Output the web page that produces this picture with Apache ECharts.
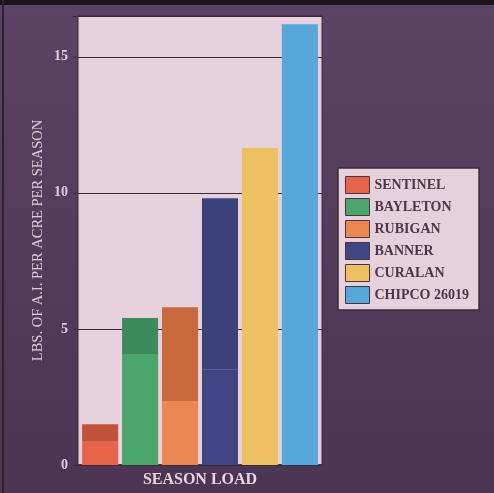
<!DOCTYPE html>
<html>
<head>
<meta charset="utf-8">
<script src="https://cdn.jsdelivr.net/npm/echarts@6/dist/echarts.min.js"></script>
<style>
  html, body { margin: 0; padding: 0; }
  #chart { width: 494px; height: 493px; }
</style>
</head>
<body>
<div id="chart"></div>
<script>
// products and their season-load range (low / high)
const products = ['SENTINEL', 'BAYLETON', 'RUBIGAN', 'BANNER', 'CURALAN', 'CHIPCO 26019'];
const lowValues = [0.85, 4.05, 2.35, 3.5, 11.65, 16.2];
const highValues = [1.5, 5.4, 5.8, 9.8, 11.65, 16.2];
const baseColors = ['#e8634a', '#4ba66c', '#ec8752', '#3f4682', '#edc062', '#54a9da'];
const topColors = ['#c2533a', '#3b8a5a', '#c86a3c', '#3b417a', '#edc062', '#54a9da'];
const categories = ['SEASON LOAD'];
const yTicks = [0, 5, 10, 15];

const serif = '"Liberation Serif", "DejaVu Serif", serif';

const series = [];
products.forEach((name, i) => {
  series.push({
    name: name,
    type: 'bar',
    stack: name,
    barWidth: 36,
    barGap: '11%',
    itemStyle: { color: baseColors[i] },
    data: [lowValues[i]],
  });
  series.push({
    name: name + ' high',
    type: 'bar',
    stack: name,
    barWidth: 36,
    barGap: '11%',
    itemStyle: { color: topColors[i] },
    data: [+(highValues[i] - lowValues[i]).toFixed(2)],
  });
});

const chart = echarts.init(document.getElementById('chart'), undefined, { renderer: 'canvas' });

chart.setOption({
  animation: false,
  backgroundColor: {
    type: 'linear', x: 0, y: 0, x2: 0, y2: 1,
    colorStops: [
      { offset: 0, color: '#5c4264' },
      { offset: 1, color: '#4b3552' },
    ],
  },
  graphic: [
    { type: 'rect', left: 0, top: 0, shape: { width: 494, height: 5 }, style: { fill: '#1e141e' } },
    { type: 'rect', left: 2, top: 0, shape: { width: 2, height: 493 }, style: { fill: '#2e2030' } },
  ],
  grid: {
    left: 78, right: 172, top: 16, bottom: 27,
    show: true,
    backgroundColor: '#e6d0dc',
    borderColor: '#3a2a38',
    borderWidth: 1,
  },
  legend: {
    data: products,
    orient: 'vertical',
    left: 338,
    top: 168,
    padding: [8, 10, 6, 7],
    icon: 'rect',
    itemWidth: 24,
    itemHeight: 17,
    itemGap: 4,
    backgroundColor: '#e6d0dc',
    borderColor: '#3a2a38',
    borderWidth: 1.5,
    selectedMode: false,
    itemStyle: { borderColor: '#4a3444', borderWidth: 1 },
    textStyle: { color: '#4a3848', fontFamily: serif, fontSize: 14, fontWeight: 'bold', lineHeight: 15 },
  },
  xAxis: {
    type: 'category',
    data: categories,
    name: 'SEASON LOAD',
    nameLocation: 'middle',
    nameGap: 7,
    nameTextStyle: { color: '#ead4e2', fontFamily: serif, fontSize: 16, fontWeight: 'bold', verticalAlign: 'top' },
    axisLine: { lineStyle: { color: '#3a2a38', width: 1.5 } },
    axisTick: { show: false },
    axisLabel: { show: false },
  },
  yAxis: {
    type: 'value',
    min: 0,
    max: 16.5,
    interval: 5,
    name: 'LBS. OF A.I. PER ACRE PER SEASON',
    nameLocation: 'middle',
    nameGap: 32,
    nameTextStyle: { color: '#e2cadc', fontFamily: serif, fontSize: 14.5 },
    axisLine: { show: false },
    axisTick: { show: true, length: 5, lineStyle: { color: '#3a2a38' } },
    axisLabel: {
      color: '#e2cad8', fontFamily: serif, fontSize: 14, fontWeight: 'bold', margin: 10,
      formatter: v => (yTicks.includes(v) ? String(v) : ''),
    },
    splitLine: { show: true, lineStyle: { color: '#3a2a38', width: 1 } },
  },
  series: series,
});
</script>
</body>
</html>
